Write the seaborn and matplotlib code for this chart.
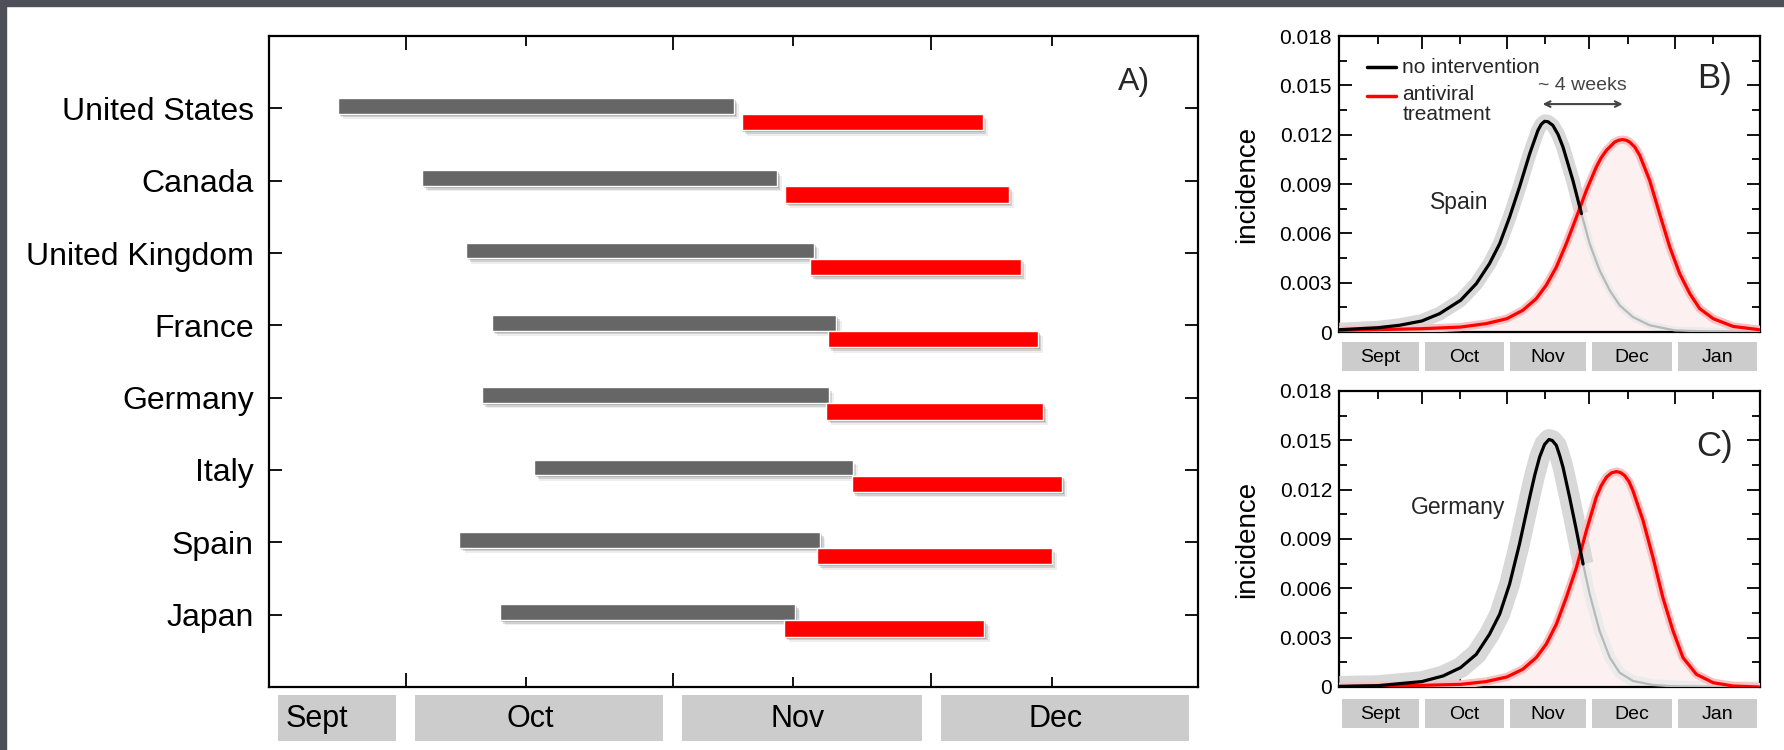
import numpy as np
import matplotlib
matplotlib.use("Agg")
import matplotlib.pyplot as plt
import matplotlib.patheffects as pe
from matplotlib.patches import Rectangle
from matplotlib.ticker import FixedLocator, FuncFormatter
import seaborn as sns

sns.set_theme(style="ticks")
plt.rcParams['font.family'] = ['Liberation Sans', 'DejaVu Sans']

# ---------------- data (days counted from 1 September) ----------------
countries = ["United States", "Canada", "United Kingdom", "France",
             "Germany", "Italy", "Spain", "Japan"]
baseline_start = [22.1, 31.9, 37.0, 40.0, 38.8, 44.9, 36.2, 40.9]
baseline_end = [68.1, 73.1, 77.4, 80.0, 79.1, 81.9, 78.1, 75.2]
antiviral_start = [69.0, 74.0, 76.9, 79.0, 78.8, 81.8, 77.7, 73.9]
antiviral_end = [97.0, 100.0, 101.4, 103.4, 104.0, 106.2, 105.0, 97.2]

months_a = ["Sept", "Oct", "Nov", "Dec"]
month_a_start = [14.1, 30, 61, 91]
month_a_end = [30, 61, 91, 122]
month_a_label = [19.7, 44.5, 75.5, 105.5]

months_bc = ["Sept", "Oct", "Nov", "Dec", "Jan"]
month_bc_start = [0, 30, 61, 91, 122]
month_bc_end = [30, 61, 91, 122, 153]

spain_none_day = [0.2, 14.1, 22.0, 30.1, 36.5, 44.2, 49.9, 54.7, 58.4, 62.0, 65.6, 69.3, 72.3,
                  73.5, 74.7, 75.9, 77.7, 79.6, 81.4, 85.0, 88.1, 91.1, 94.7, 98.4, 102.0,
                  106.8, 112.9, 121.9, 136.0, 152.7]
spain_none_inc = [0.00014, 0.00026, 0.00041, 0.00067, 0.00111, 0.00193, 0.00294, 0.00416,
                  0.00537, 0.00699, 0.00882, 0.01084, 0.01226, 0.01263, 0.01281, 0.01279,
                  0.01257, 0.01202, 0.01125, 0.00922, 0.00720, 0.00537, 0.00375, 0.00253,
                  0.00162, 0.00091, 0.00041, 0.0001, 0.00002, 0.0]
spain_av_day = [0.2, 30.1, 44.2, 53.5, 61.0, 66.8, 71.7, 75.3, 79.0, 82.6, 86.3, 89.9, 93.5,
                95.3, 97.2, 100.2, 101.6, 103.0, 104.4, 105.6, 107.5, 109.3, 112.9, 116.5,
                120.2, 123.8, 127.5, 131.1, 136.0, 143.2, 152.7]
spain_av_inc = [0.0001, 0.0002, 0.0003, 0.00051, 0.00081, 0.00132, 0.00203, 0.00284, 0.00395,
                0.00537, 0.00699, 0.00861, 0.01003, 0.0106, 0.01105, 0.01155, 0.01166, 0.0117,
                0.01166, 0.01155, 0.01125, 0.01074, 0.00922, 0.0072, 0.00517, 0.00355,
                0.00233, 0.00142, 0.00081, 0.00034, 0.00014]
spain_cross = 88.1

germany_none_day = [0.2, 14.1, 30.1, 37.8, 44.2, 49.9, 54.7, 58.4, 62.0, 65.6, 69.3, 71.1, 72.9,
                    74.7, 76.3, 77.5, 79.0, 80.2, 81.4, 83.8, 86.3, 88.7, 91.1, 94.7, 98.4,
                    102.0, 106.8, 114.1, 121.9, 136.0, 152.7]
germany_none_inc = [0.00004, 0.00008, 0.00033, 0.00067, 0.00118, 0.00199, 0.00321, 0.00443,
                    0.00626, 0.0087, 0.01154, 0.01286, 0.01398, 0.01475, 0.01505, 0.01499,
                    0.01469, 0.01408, 0.01337, 0.01154, 0.00951, 0.00748, 0.00565, 0.00341,
                    0.00179, 0.00087, 0.00037, 0.00012, 0.00004, 0.0, 0.0]
germany_av_day = [0.2, 30.1, 44.2, 53.5, 61.0, 66.8, 71.7, 75.3, 79.0, 82.6, 86.3, 89.9, 93.5,
                  95.3, 97.2, 99.0, 100.8, 102.3, 103.8, 105.4, 106.8, 110.5, 114.1, 117.7,
                  121.4, 125.0, 129.9, 136.0, 143.2, 152.7]
germany_av_inc = [0.00002, 0.0001, 0.00016, 0.00033, 0.00061, 0.00108, 0.00179, 0.0026, 0.00382,
                  0.00544, 0.00727, 0.00951, 0.01154, 0.01225, 0.01276, 0.01302, 0.0131,
                  0.01304, 0.01286, 0.01249, 0.01195, 0.01012, 0.00788, 0.00544, 0.00341,
                  0.00179, 0.00077, 0.00026, 0.00006, 0.0]
germany_cross = 88.7

# ---------------- layout ----------------
W, H = 1784, 750
fig = plt.figure(figsize=(W / 100, H / 100), dpi=100)
fig.patch.set_facecolor("white")
dark = "#4d5058"
fig.add_artist(Rectangle((0, 1 - 6 / H), 1, 6 / H, transform=fig.transFigure,
                         color=dark, zorder=-5))
fig.add_artist(Rectangle((0, 0), 6 / W, 1, transform=fig.transFigure, color=dark, zorder=-5))


def ax_px(l, t, r, b):
    return fig.add_axes([l / W, 1 - b / H, (r - l) / W, (b - t) / H])


axA = ax_px(269, 36, 1198, 687)
axAm = ax_px(269, 695, 1198, 741)
axB = ax_px(1339, 36, 1760, 332)
axBm = ax_px(1339, 342, 1760, 371)
axC = ax_px(1339, 391, 1760, 687)
axCm = ax_px(1339, 699, 1760, 728)

for ax in (axA, axB, axC):
    for s in ax.spines.values():
        s.set_color("black")
        s.set_linewidth(1.6)
    ax.set_facecolor("white")

# ---------------- panel A ----------------
ypos = np.arange(len(countries))
shadow = [pe.SimplePatchShadow(offset=(1.2, -1.5), shadow_rgbFace="k", alpha=0.22),
          pe.SimplePatchShadow(offset=(2.5, -2.8), shadow_rgbFace="k", alpha=0.14),
          pe.SimplePatchShadow(offset=(3.8, -4.0), shadow_rgbFace="k", alpha=0.07),
          pe.Normal()]
b1 = axA.barh(ypos - 0.035, np.array(baseline_end) - np.array(baseline_start),
              left=baseline_start, height=0.215, color="#666666", zorder=2)
b2 = axA.barh(ypos + 0.19, np.array(antiviral_end) - np.array(antiviral_start),
              left=antiviral_start, height=0.225, color="#ff0000", zorder=3)
for p in list(b1) + list(b2):
    p.set_path_effects(shadow)

axA.set_xlim(month_a_start[0], month_a_end[-1])
axA.set_ylim(len(countries), -1)
axA.set_yticks(ypos)
axA.set_yticklabels(countries, fontsize=23)
axA.xaxis.set_major_locator(FixedLocator(month_a_start[1:]))
axA.xaxis.set_minor_locator(FixedLocator([44, 75, 105]))
axA.tick_params(axis="x", which="both", direction="in", top=True, bottom=True,
                labelbottom=False, width=1.3, color="black")
axA.tick_params(axis="x", which="major", length=10)
axA.tick_params(axis="x", which="minor", length=7)
axA.tick_params(axis="y", which="major", direction="in", left=True, right=True,
                length=9.5, width=1.3, pad=11, color="black", labelcolor="black")
axA.tick_params(axis="y", which="minor", left=False, right=False)
axA.text(0.914, 0.929, "A)", transform=axA.transAxes, fontsize=23, ha="left", va="center")


def month_boxes(axm, starts, ends, labels, label_pos, xlim, fs, gap=1.1):
    axm.set_xlim(*xlim)
    axm.set_ylim(0, 1)
    axm.axis("off")
    for s, e, lab, lp in zip(starts, ends, labels, label_pos):
        axm.axvspan(s + gap, e - gap, color="#cccccc", lw=0)
        axm.text(lp, 0.47, lab, ha="center", va="center", fontsize=fs, color="black")


month_boxes(axAm, month_a_start, month_a_end, months_a, month_a_label,
            (month_a_start[0], month_a_end[-1]), 22)
bc_label = [(s + e) / 2 for s, e in zip(month_bc_start, month_bc_end)]
month_boxes(axBm, month_bc_start, month_bc_end, months_bc, bc_label, (0, 153), 14)
month_boxes(axCm, month_bc_start, month_bc_end, months_bc, bc_label, (0, 153), 14)


# ---------------- panels B, C ----------------
def curves(ax, nd, ni, ad, ai, cross, band_lw):
    nd, ni, ad, ai = map(np.asarray, (nd, ni, ad, ai))
    k = int(np.searchsorted(nd, cross))
    ax.fill_between(ad, ai, 0, color="#fdf0f0", lw=0, zorder=1)
    sns.lineplot(x=nd[k:], y=ni[k:], ax=ax, color="#ebebeb", lw=band_lw * 0.55,
                 solid_capstyle="round", solid_joinstyle="round", zorder=2)
    sns.lineplot(x=nd[:k + 1], y=ni[:k + 1], ax=ax, color="#d8d8d8", lw=band_lw,
                 solid_capstyle="butt", solid_joinstyle="round", zorder=3)
    sns.lineplot(x=ad, y=ai, ax=ax, color="#f8c0c0", lw=6, solid_joinstyle="round", zorder=3)
    sns.lineplot(x=nd[k:], y=ni[k:], ax=ax, color="#b8b8b8", lw=1.6,
                 solid_joinstyle="round", zorder=4)
    sns.lineplot(x=ad, y=ai, ax=ax, color="#ff0000", lw=2.3, solid_joinstyle="round", zorder=5)
    sns.lineplot(x=nd[:k + 1], y=ni[:k + 1], ax=ax, color="black", lw=2.3,
                 solid_joinstyle="round", solid_capstyle="round", zorder=6)


curves(axB, spain_none_day, spain_none_inc, spain_av_day, spain_av_inc, spain_cross, 10)
curves(axC, germany_none_day, germany_none_inc, germany_av_day, germany_av_inc,
       germany_cross, 15)

fmt = FuncFormatter(lambda v, p: "0" if abs(v) < 1e-12 else f"{v:.3f}")
for ax in (axB, axC):
    ax.set_xlim(0, 153)
    ax.set_ylim(0, 0.018)
    ax.set_xlabel("")
    ax.xaxis.set_major_locator(FixedLocator([30, 61, 91, 122]))
    ax.xaxis.set_minor_locator(FixedLocator([14, 44, 75, 105, 136]))
    ax.yaxis.set_major_locator(FixedLocator(np.arange(0, 0.0181, 0.003)))
    ax.yaxis.set_minor_locator(FixedLocator(np.arange(0.0015, 0.018, 0.003)))
    ax.yaxis.set_major_formatter(fmt)
    ax.tick_params(axis="both", which="both", direction="in", top=True, bottom=True,
                   left=True, right=True, labelbottom=False, width=1.3, color="black")
    ax.tick_params(axis="both", which="major", length=9.5)
    ax.tick_params(axis="both", which="minor", length=6)
    ax.tick_params(axis="y", which="major", labelsize=15, pad=5, labelcolor="black")
    ax.set_ylabel("incidence", fontsize=20, labelpad=14, color="black")

# legend (panel B)
axB.plot([0.067, 0.135], [0.895, 0.895], transform=axB.transAxes, color="black", lw=2.5)
axB.plot([0.067, 0.135], [0.797, 0.797], transform=axB.transAxes, color="#ff0000", lw=2.5)
axB.text(0.150, 0.895, "no intervention", transform=axB.transAxes, fontsize=15,
         ha="left", va="center")
axB.text(0.150, 0.835, "antiviral\ntreatment", transform=axB.transAxes, fontsize=15,
         ha="left", va="top", linespacing=1.1)

axB.annotate("", xy=(103.1, 0.01386), xytext=(74.0, 0.01386),
             arrowprops=dict(arrowstyle="<->", color="#444444", lw=1.5,
                             shrinkA=0, shrinkB=0, mutation_scale=10))
axB.text(88.5, 0.01496, "~ 4 weeks", ha="center", va="center", fontsize=14, color="#444444")
axB.text(32.9, 0.0079, "Spain", ha="left", va="center", fontsize=16.5)
axB.text(0.893, 0.858, "B)", transform=axB.transAxes, fontsize=25, ha="center", va="center")

axC.text(26.0, 0.0109, "Germany", ha="left", va="center", fontsize=16.5)
axC.text(0.893, 0.814, "C)", transform=axC.transAxes, fontsize=25, ha="center", va="center")

fig.savefig("out.png", dpi=100)
